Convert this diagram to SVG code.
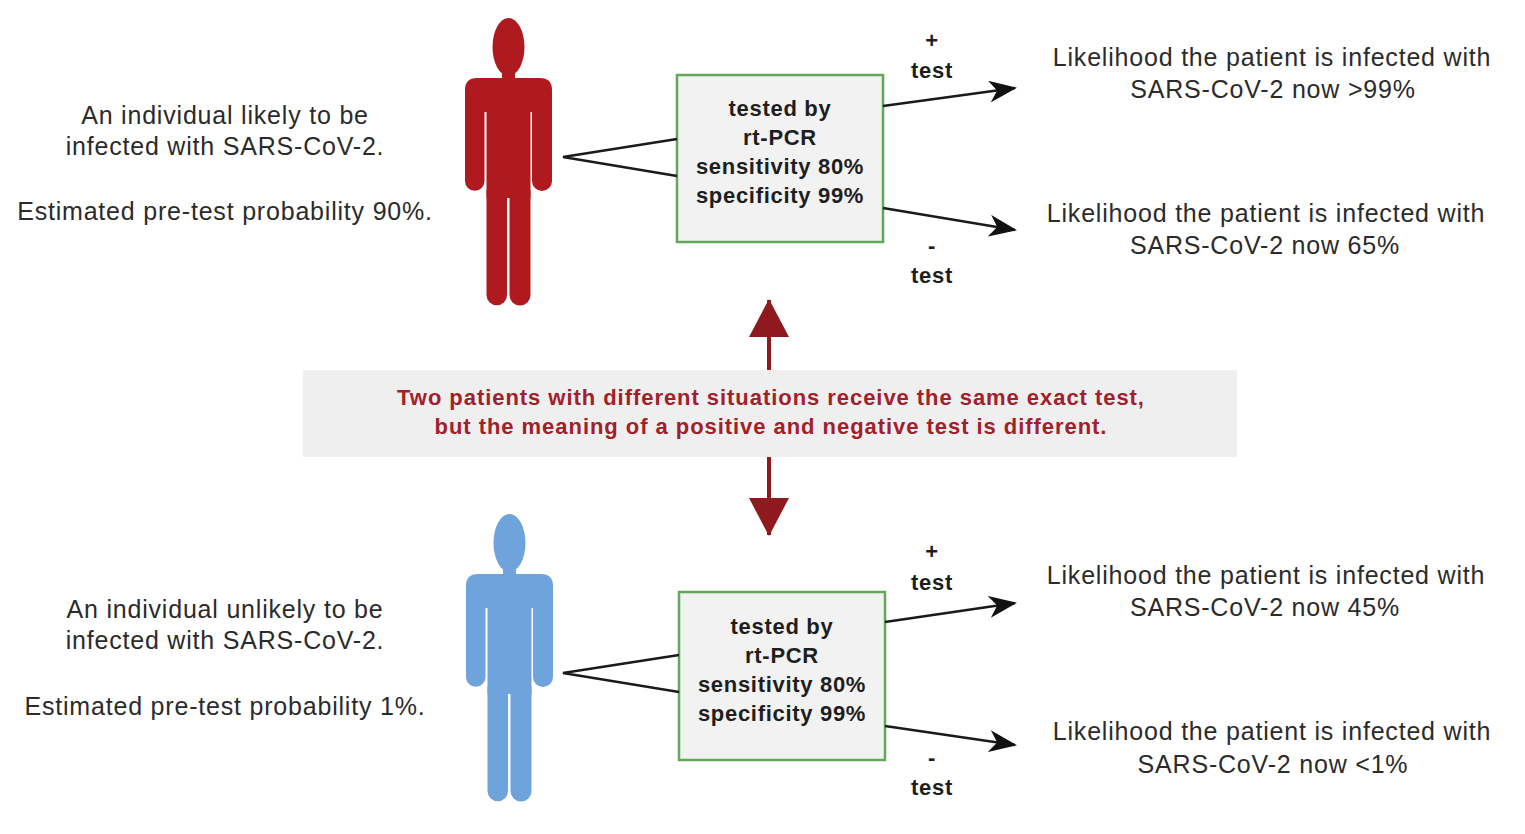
<svg xmlns="http://www.w3.org/2000/svg" xmlns:xlink="http://www.w3.org/1999/xlink" width="1525" height="834" viewBox="0 0 1525 834">
<style>
.t{font-family:"Liberation Sans",Arial,sans-serif;font-size:25px;letter-spacing:0.8px;fill:#2b2b2b;text-anchor:middle}
.b{font-family:"Liberation Sans",Arial,sans-serif;font-size:22px;font-weight:bold;letter-spacing:0.7px;fill:#1e1e1e;text-anchor:middle}
.r{font-family:"Liberation Sans",Arial,sans-serif;font-size:22px;font-weight:bold;letter-spacing:0.95px;fill:#a2202a;text-anchor:middle}
.box{fill:#f2f2f2;stroke:#62a85a;stroke-width:2.5}
.ln{fill:none;stroke:#1a1a1a;stroke-width:2.5}
.arr{fill:none;stroke:#1a1a1a;stroke-width:2.5;marker-end:url(#ah)}
.red{fill:none;stroke:#8e1a20;stroke-width:4;marker-end:url(#rh)}
</style>
<defs>
<marker id="ah" viewBox="0 0 28 22" refX="26" refY="11" markerWidth="28" markerHeight="22" markerUnits="userSpaceOnUse" orient="auto">
<path d="M0,0 L28,11 L0,22 L8,11 Z" fill="#111"/>
</marker>
<marker id="rh" viewBox="0 0 38 40" refX="37" refY="20" markerWidth="38" markerHeight="40" markerUnits="userSpaceOnUse" orient="auto">
<path d="M0,0 L38,20 L0,40 Z" fill="#8e1a20"/>
</marker>
<g id="person">
<ellipse cx="508.5" cy="47" rx="16" ry="29"/>
<rect x="502" y="66" width="13" height="16"/>
<path d="M465,112 L465,90 Q465,78 477,78 L540,78 Q552,78 552,90 L552,112 Z"/>
<path d="M465,100 L484.5,100 L484.5,181 A9.75,9.75 0 0 1 465,181 Z"/>
<path d="M532,100 L552,100 L552,181 A10,10 0 0 1 532,181 Z"/>
<rect x="486.5" y="78" width="44" height="120"/>
<path d="M486.5,190 L507,190 L507,295 A10.25,10.25 0 0 1 486.5,295 Z"/>
<path d="M509.5,190 L530.5,190 L530.5,295 A10.5,10.5 0 0 1 509.5,295 Z"/>
</g>
</defs>

<g id="person-infected" fill="#ae1a20">
<use xlink:href="#person"/>
</g>
<g id="person-uninfected" fill="#6fa3dc">
<use xlink:href="#person" transform="translate(1,496)"/>
</g>

<g id="text-infected">
<text class="t" x="225" y="124">An individual likely to be</text>
<text class="t" x="225" y="155">infected with SARS-CoV-2.</text>
<text class="t" x="225" y="220">Estimated pre-test probability 90%.</text>
</g>
<g id="text-uninfected">
<text class="t" x="225" y="618">An individual unlikely to be</text>
<text class="t" x="225" y="649">infected with SARS-CoV-2.</text>
<text class="t" x="225" y="715">Estimated pre-test probability 1%.</text>
</g>

<g id="test-box-top">
<rect class="box" x="677" y="75" width="206" height="167"/>
<text class="b" x="780" y="116">tested by</text>
<text class="b" x="780" y="145">rt-PCR</text>
<text class="b" x="780" y="174">sensitivity 80%</text>
<text class="b" x="780" y="203">specificity 99%</text>
</g>
<g id="test-box-bottom">
<rect class="box" x="679" y="592" width="206" height="168"/>
<text class="b" x="782" y="634">tested by</text>
<text class="b" x="782" y="663">rt-PCR</text>
<text class="b" x="782" y="692">sensitivity 80%</text>
<text class="b" x="782" y="721">specificity 99%</text>
</g>

<g id="center-note">
<rect x="303" y="370" width="934" height="87" fill="#efefef"/>
<text class="r" x="771" y="405">Two patients with different situations receive the same exact test,</text>
<text class="r" x="771" y="434">but the meaning of a positive and negative test is different.</text>
</g>

<g id="results-top">
<text class="t" x="1272" y="66">Likelihood the patient is infected with</text>
<text class="t" x="1273" y="98">SARS-CoV-2 now &gt;99%</text>
<text class="t" x="1266" y="222">Likelihood the patient is infected with</text>
<text class="t" x="1265" y="254">SARS-CoV-2 now 65%</text>
</g>
<g id="results-bottom">
<text class="t" x="1266" y="584">Likelihood the patient is infected with</text>
<text class="t" x="1265" y="616">SARS-CoV-2 now 45%</text>
<text class="t" x="1272" y="740">Likelihood the patient is infected with</text>
<text class="t" x="1273" y="773">SARS-CoV-2 now &lt;1%</text>
</g>

<g id="connectors">
<path class="ln" d="M677,139 L563,157 L677,176"/>
<path class="ln" d="M679,655 L563,673 L679,692"/>
<line class="arr" x1="883" y1="106" x2="1015" y2="88"/>
<line class="arr" x1="883" y1="208" x2="1015" y2="230"/>
<line class="arr" x1="885" y1="622" x2="1015" y2="603"/>
<line class="arr" x1="885" y1="726" x2="1015" y2="745"/>
<line class="red" x1="769" y1="370" x2="769" y2="300"/>
<line class="red" x1="769" y1="457" x2="769" y2="535"/>
<text class="b" x="932" y="48">+</text>
<text class="b" x="932" y="78">test</text>
<text class="b" x="932" y="253">-</text>
<text class="b" x="932" y="283">test</text>
<text class="b" x="932" y="559">+</text>
<text class="b" x="932" y="590">test</text>
<text class="b" x="932" y="765">-</text>
<text class="b" x="932" y="795">test</text>
</g>
</svg>
